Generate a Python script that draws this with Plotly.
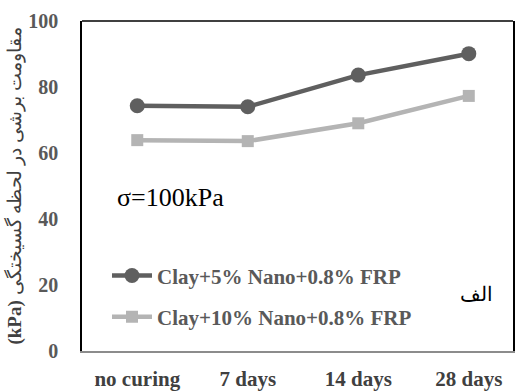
import plotly.graph_objects as go

# Curing periods and shear strength at failure (kPa)
categories = ["no curing", "7 days", "14 days", "28 days"]
nano5_frp = [74.3, 74.0, 83.6, 90.1]
nano10_frp = [63.9, 63.6, 69.0, 77.3]
y_ticks = [0, 20, 40, 60, 80, 100]

serif = "Times New Roman"

fig = go.Figure()
fig.add_trace(go.Scatter(
    x=categories, y=nano5_frp, mode="lines+markers",
    name="<b>Clay+5% Nano+0.8% FRP</b>", legendgroup="a",
    line=dict(color="#5f5f5f", width=4.5),
    marker=dict(symbol="circle", size=15, color="#5f5f5f"),
))
fig.add_trace(go.Scatter(
    x=categories, y=nano10_frp, mode="lines+markers",
    name="<b>Clay+10% Nano+0.8% FRP</b>", legendgroup="b",
    line=dict(color="#b4b4b4", width=4.5),
    marker=dict(symbol="square", size=12, color="#b4b4b4"),
))

fig.update_layout(
    width=516, height=392,
    margin=dict(l=82, r=1, t=21, b=36),
    paper_bgcolor="white", plot_bgcolor="white",
    showlegend=True,
    legend=dict(
        x=0.058, y=0.29, xanchor="left", yanchor="top",
        bgcolor="rgba(0,0,0,0)",
        font=dict(family=serif, size=21, color="#595959"),
        tracegroupgap=11, itemwidth=40,
    ),
    xaxis=dict(
        type="category", range=[-0.5, 3.4],
        showgrid=False, showline=True, linecolor="#8c8c8c", linewidth=1.5,
        ticks="", ticklabelstandoff=8,
        tickvals=categories, ticktext=[f"<b>{c}</b>" for c in categories],
        tickfont=dict(family=serif, size=21, color="#404040"),
    ),
    yaxis=dict(
        range=[0, 100], tickvals=y_ticks,
        ticktext=[f"<b>{v}</b>" for v in y_ticks],
        showgrid=False, showline=True, linecolor="black", linewidth=1.5,
        mirror=True, ticks="", ticklabelstandoff=18,
        tickfont=dict(family=serif, size=20, color="#595959"),
        title=dict(
            text="<b>(kPa)</b> مقاومت برشی در لحظه گسیختگی",
            font=dict(family=serif, size=19, color="#404040"),
            standoff=2,
        ),
    ),
    shapes=[dict(type="line", xref="paper", yref="paper", x0=0, x1=1, y0=1, y1=1,
                 line=dict(color="black", width=1.5))],
    annotations=[
        dict(text="σ=100kPa", xref="paper", yref="paper", x=0.076, y=0.466,
             xanchor="left", yanchor="middle", showarrow=False,
             font=dict(family=serif, size=26, color="black")),
        dict(text="الف", xref="paper", yref="paper", x=0.915, y=0.173,
             xanchor="center", yanchor="middle", showarrow=False,
             font=dict(family=serif, size=20, color="black")),
    ],
)

fig.write_html("out.html")
